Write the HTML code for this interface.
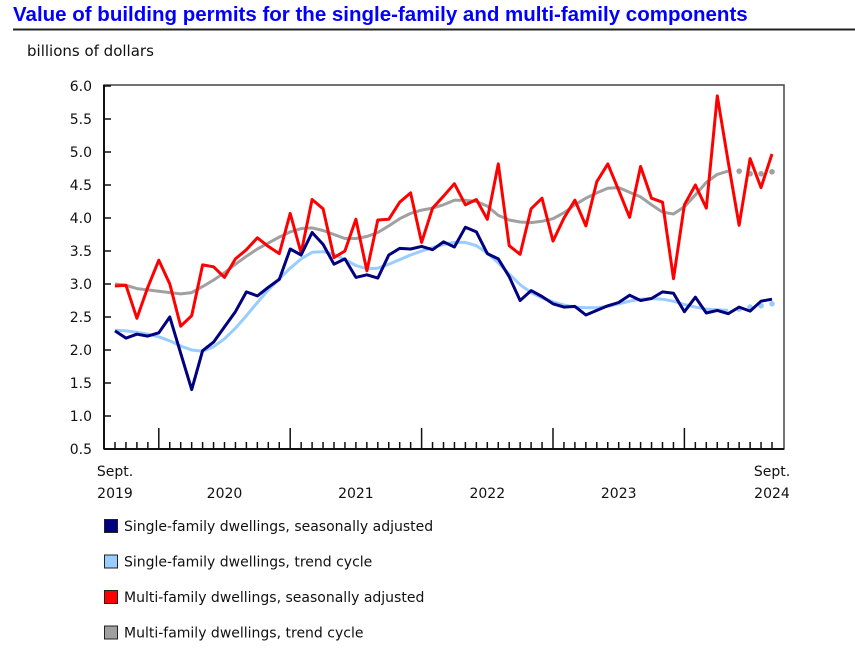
<!DOCTYPE html>
<html><head><meta charset="utf-8"><style>
body{margin:0;background:#fff;width:855px;height:646px;overflow:hidden;font-family:"DejaVu Sans","Liberation Sans",sans-serif;}
svg text{font-family:"DejaVu Sans","Liberation Sans",sans-serif;}
</style></head><body>
<svg id="chart" width="855" height="646" xmlns="http://www.w3.org/2000/svg">
<text x="13" y="21" font-weight="bold" fill="#0000ff" style="font-family:'Liberation Sans',sans-serif;font-size:20.5px">Value of building permits for the single-family and multi-family components</text>
<line x1="13" y1="29.5" x2="855" y2="29.5" stroke="#222" stroke-width="2"/>
<text x="27" y="56" font-size="15" fill="#111">billions of dollars</text>
<g id="axes"></g>
<g id="series"></g>
<g id="legend"></g>
</svg>
<script>
const yTicks=[0.5,1.0,1.5,2.0,2.5,3.0,3.5,4.0,4.5,5.0,5.5,6.0];
const yearLabels=["2020","2021","2022","2023"];
const singleSA=[2.29,2.18,2.24,2.21,2.26,2.5,1.95,1.4,1.99,2.12,2.35,2.58,2.88,2.82,2.95,3.07,3.53,3.44,3.78,3.6,3.3,3.38,3.1,3.14,3.09,3.44,3.54,3.53,3.57,3.52,3.64,3.56,3.86,3.79,3.46,3.38,3.11,2.75,2.9,2.81,2.7,2.65,2.66,2.53,2.6,2.67,2.72,2.83,2.75,2.78,2.88,2.86,2.58,2.8,2.56,2.6,2.55,2.65,2.59,2.74,2.77];
const singleTrend=[2.3,2.29,2.27,2.24,2.2,2.14,2.06,2.0,1.98,2.05,2.17,2.33,2.52,2.72,2.91,3.08,3.24,3.38,3.48,3.49,3.45,3.37,3.28,3.23,3.24,3.3,3.37,3.44,3.5,3.55,3.6,3.63,3.63,3.58,3.47,3.32,3.15,2.99,2.87,2.79,2.73,2.68,2.65,2.64,2.64,2.66,2.7,2.74,2.77,2.78,2.77,2.74,2.69,2.65,2.62,2.61,2.6,2.62,2.65,2.67,2.7];
const multiSA=[2.97,2.98,2.48,2.95,3.36,3.0,2.36,2.52,3.29,3.26,3.1,3.38,3.52,3.7,3.57,3.46,4.07,3.47,4.28,4.14,3.4,3.5,3.98,3.2,3.97,3.98,4.24,4.38,3.63,4.15,4.33,4.52,4.2,4.28,3.98,4.82,3.58,3.45,4.14,4.3,3.65,4.0,4.27,3.88,4.55,4.82,4.42,4.01,4.78,4.3,4.24,3.08,4.2,4.5,4.15,5.85,4.85,3.89,4.9,4.46,4.97];
const multiTrend=[3.0,2.98,2.93,2.91,2.89,2.87,2.85,2.87,2.96,3.06,3.17,3.3,3.42,3.53,3.62,3.71,3.79,3.84,3.85,3.81,3.75,3.69,3.69,3.72,3.78,3.88,3.99,4.07,4.12,4.15,4.2,4.27,4.27,4.25,4.18,4.04,3.97,3.94,3.93,3.95,3.99,4.08,4.2,4.3,4.38,4.45,4.46,4.39,4.32,4.2,4.09,4.06,4.17,4.35,4.54,4.66,4.71,4.71,4.67,4.67,4.7];
const legendLabels=["Single-family dwellings, seasonally adjusted","Single-family dwellings, trend cycle","Multi-family dwellings, seasonally adjusted","Multi-family dwellings, trend cycle"];
const colors=["#000080","#99ccff","#ff0000","#a0a0a0"];
const NS="http://www.w3.org/2000/svg";
const X0=104,X1=784,Y0=449,Y1=86;
const xs=i=>115+i*(772-115)/60;
const ys=v=>Y0-(v-0.5)*(Y0-Y1)/5.5;
function mk(t,a,p){const e=document.createElementNS(NS,t);for(const k in a)e.setAttribute(k,a[k]);p.appendChild(e);return e;}
const ax=document.getElementById('axes');
const frame=mk('rect',{x:X0,y:Y1-1,width:X1-X0,height:Y0-Y1+1,fill:'none',stroke:'#444','stroke-width':1.5},ax);


mk('line',{x1:X0,y1:Y0,x2:X1,y2:Y0,stroke:'#111','stroke-width':2},ax);
mk('line',{x1:X0,y1:Y1-1,x2:X0,y2:Y0,stroke:'#111','stroke-width':2},ax);
yTicks.forEach(v=>{
 mk('line',{x1:X0,y1:ys(v),x2:X0+7,y2:ys(v),stroke:'#111','stroke-width':1.5},ax);
 const t=mk('text',{x:92,y:ys(v)+5,'text-anchor':'end','font-size':14,fill:'#111'},ax);
 t.textContent=v.toFixed(1);
 
 
});
for(let i=0;i<=60;i++){
 const major=(i-4)%12===0;
 mk('line',{x1:xs(i),y1:Y0,x2:xs(i),y2:Y0-(major?21:7),stroke:'#111','stroke-width':1.5},ax);
}
yearLabels.forEach((lab,k)=>{
 const t=mk('text',{x:xs(4+12*k+6),y:498,'text-anchor':'middle','font-size':14,fill:'#111'},ax);
 t.textContent=lab;
 
 
});
[[0,"2019"],[60,"2024"]].forEach(([i,yr])=>{
 const a=mk('text',{x:xs(i),y:476,'text-anchor':'middle','font-size':14,fill:'#111'},ax);a.textContent="Sept.";
 
 
 const b=mk('text',{x:xs(i),y:498,'text-anchor':'middle','font-size':14,fill:'#111'},ax);b.textContent=yr;
 
 
});
const sg=document.getElementById('series');
function line(arr,col,w,name,end){
 const n=end===undefined?arr.length:end+1;
 const pts=arr.slice(0,n).map((v,i)=>xs(i).toFixed(1)+','+ys(v).toFixed(1)).join(' ');
 const p=mk('polyline',{points:pts,fill:'none',stroke:col,'stroke-width':w,'stroke-linejoin':'round'},sg);
 
 
 if(end!==undefined){for(let i=end+1;i<arr.length;i++){const c=mk('circle',{cx:xs(i),cy:ys(arr[i]),r:2.8,fill:col},sg);
  
  }}
}
line(multiTrend,colors[3],3,'multi-family-trend-line',56);
line(singleTrend,colors[1],3,'single-family-trend-line',56);
line(multiSA,colors[2],3,'multi-family-sa-line');
line(singleSA,colors[0],3,'single-family-sa-line');
const lg=document.getElementById('legend');
legendLabels.forEach((lab,k)=>{
 const y=519+k*35.5;
 const g=mk('g',{},lg);
 
 
 mk('rect',{x:104.5,y:y+0.5,width:13,height:13,fill:colors[k],stroke:'#222','stroke-width':1},g);
 const t=mk('text',{x:124,y:y+12,'font-size':14,fill:'#111'},g);t.textContent=lab;
});
</script>
</body></html>
